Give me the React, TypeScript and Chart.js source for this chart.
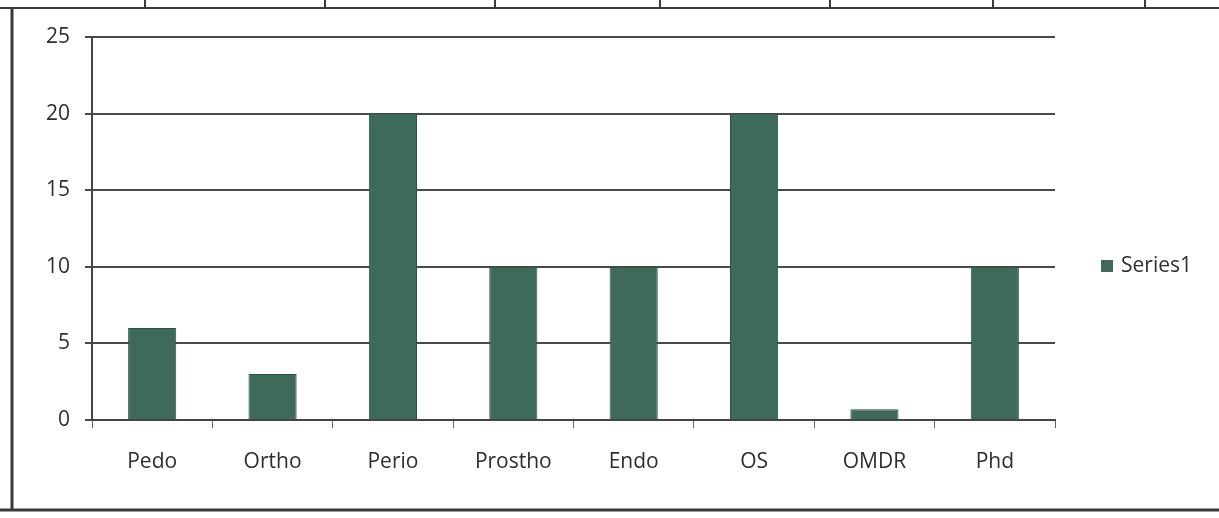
import React, { useEffect, useRef } from "react";
import { Chart, registerables } from "chart.js";

Chart.register(...registerables);

const categories = ["Pedo", "Ortho", "Perio", "Prostho", "Endo", "OS", "OMDR", "Phd"];
const series1 = [6, 3, 20, 10, 10, 20, 0.7, 10];
const seriesName = "Series1";
const barColor = "#3d6a59";
const textColor = "#2e2e2e";
const fontFamily = "'Open Sans', sans-serif";

const framePlugin = {
  id: "frame",
  beforeDraw(chart: any) {
    const ctx = chart.ctx;
    ctx.save();
    ctx.fillStyle = "#ffffff";
    ctx.fillRect(0, 0, chart.width, chart.height);
    ctx.strokeStyle = "#3a3a3a";
    // top table line
    ctx.lineWidth = 2;
    ctx.beginPath();
    ctx.moveTo(0, 8);
    ctx.lineTo(chart.width, 8);
    ctx.stroke();
    [145, 325, 495, 660, 830, 993, 1145].forEach((x) => {
      ctx.beginPath();
      ctx.moveTo(x, 0);
      ctx.lineTo(x, 8);
      ctx.stroke();
    });
    // left frame
    ctx.lineWidth = 3;
    ctx.beginPath();
    ctx.moveTo(12, 8);
    ctx.lineTo(12, 510);
    ctx.stroke();
    // bottom frame
    ctx.beginPath();
    ctx.moveTo(0, 510);
    ctx.lineTo(chart.width, 510);
    ctx.stroke();
    ctx.restore();
  },
  afterDraw(chart: any) {
    const ctx = chart.ctx;
    ctx.save();
    ctx.fillStyle = barColor;
    ctx.fillRect(1101, 260, 12, 12);
    ctx.fillStyle = textColor;
    ctx.font = "21px " + fontFamily;
    ctx.textBaseline = "middle";
    ctx.textAlign = "left";
    ctx.fillText(seriesName, 1121, 266);
    ctx.restore();
  },
};

export default function App() {
  const ref = useRef<HTMLCanvasElement>(null);
  useEffect(() => {
    if (!ref.current) return;
    const chart = new Chart(ref.current, {
      type: "bar",
      data: {
        labels: categories,
        datasets: [
          {
            label: seriesName,
            data: series1,
            backgroundColor: barColor,
            borderColor: "#2d5244",
            borderWidth: 1,
            barPercentage: 0.4,
            categoryPercentage: 1,
          },
        ],
      },
      options: {
        animation: false,
        responsive: false,
        maintainAspectRatio: false,
        layout: { padding: { top: 37, left: 0, right: 164, bottom: 0 } },
        plugins: { legend: { display: false }, tooltip: { enabled: false } },
        scales: {
          x: {
            offset: true,
            afterFit(scale: any) {
              scale.height = 98;
            },
            grid: {
              display: true,
              offset: true,
              drawOnChartArea: false,
              drawTicks: true,
              tickLength: 8,
              color: "#666666",
            },
            border: { display: true, color: "#444444", width: 2 },
            ticks: {
              color: textColor,
              padding: 21,
              font: { family: fontFamily, size: 21 },
            },
          },
          y: {
            min: 0,
            max: 25,
            afterFit(scale: any) {
              scale.width = 92;
            },
            ticks: {
              stepSize: 5,
              color: textColor,
              padding: 15,
              font: { family: fontFamily, size: 21 },
            },
            grid: {
              color: "#4a4a4a",
              lineWidth: 2,
              tickLength: 7,
            },
            border: { display: true, color: "#444444", width: 2 },
          },
        },
      },
      plugins: [framePlugin],
    });
    return () => chart.destroy();
  }, []);
  return (
    <div style={{ position: "absolute", left: 0, top: 0, width: 1219, height: 518 }}>
      <canvas ref={ref} width={1219} height={518} style={{ width: 1219, height: 518 }} />
    </div>
  );
}
